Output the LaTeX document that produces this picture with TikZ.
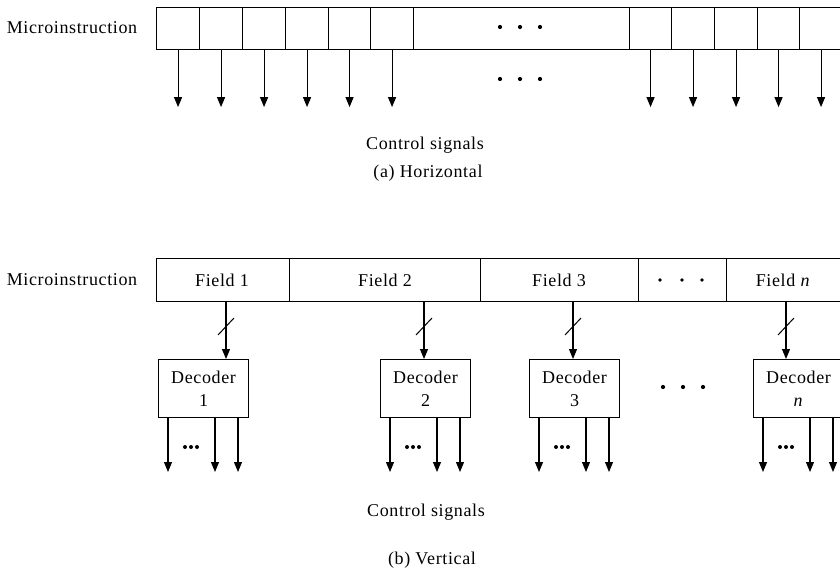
\documentclass[tikz,border=0pt]{standalone}
\usepackage{fontspec}
\setmainfont{Liberation Serif}[LetterSpace=3.5]
\usetikzlibrary{arrows.meta,calc}
\begin{document}
\begin{tikzpicture}[x=1pt,y=-1pt,
  txt/.style={font=\fontsize{18}{22}\selectfont, inner sep=0pt},
  cellbox/.style={draw, line width=1.1pt, rectangle, inner sep=0pt, anchor=north west},
  sig/.style={draw, line width=1.1pt, -{Triangle[width=8pt,length=10pt]}},
  busarrow/.style={draw, line width=1.1pt, -{Triangle[width=8pt,length=10pt]}},
  decbox/.style={draw, line width=1.1pt, rectangle, inner sep=0pt, anchor=north west, minimum width=90pt, minimum height=58pt, align=center, font=\fontsize{18}{22}\selectfont}
]
\useasboundingbox (0,0) rectangle (840,572);

% ---------------- (a) Horizontal ----------------
\node[txt] (mia) at (72,28) {Microinstruction};
\foreach \i/\x/\w in {1/156/43, 2/199/43, 3/242/43, 4/285/43, 5/328/42, 6/370/43, 7/629/42, 8/671/43, 9/714/43, 10/757/42, 11/799/43} {
  \node[cellbox, minimum width=\w pt, minimum height=42pt] (c\i) at (\x,7) {};
  \coordinate (e\i) at ($(c\i.south)+(0,57)$);
  \draw[sig] (c\i.south) -- (e\i);
}
\node[cellbox, minimum width=216pt, minimum height=42pt] (cm) at (413,7) {};
\foreach \x in {500,520,540} {
  \fill (\x,27) circle (2.1pt);
  \fill (\x,79) circle (2.1pt);
}
\node[txt] (csa) at (425,145) {Control signals};
\node[txt] (capa) at (428,173) {(a) Horizontal};

% ---------------- (b) Vertical ----------------
\node[txt] (mib) at (72,280) {Microinstruction};
\node[cellbox, minimum width=133pt, minimum height=43pt] (f1) at (156,258) {};
\node[cellbox, minimum width=191pt, minimum height=43pt] (f2) at (289,258) {};
\node[cellbox, minimum width=158pt, minimum height=43pt] (f3) at (480,258) {};
\node[cellbox, minimum width=88pt, minimum height=43pt] (fd) at (638,258) {};
\node[cellbox, minimum width=116pt, minimum height=43pt] (fn) at (726,258) {};
\node[txt] at (222,280) {Field 1};
\node[txt] at (385,280) {Field 2};
\node[txt] at (559,280) {Field 3};
\node[txt] at (783,280) {Field \textit{n}};
\foreach \x in {660,682,702} \fill (\x,280) circle (1.9pt);

\node[decbox] (d1) at (158,359) {Decoder\\[1pt]1};
\node[decbox] (d2) at (380,359) {Decoder\\[1pt]2};
\node[decbox] (d3) at (529,359) {Decoder\\[1pt]3};
\node[decbox] (dn) at (753,359) {Decoder\\[1pt]\textit{n}};
\foreach \x in {663,683,703} \fill (\x,387) circle (2.1pt);

% field-to-decoder buses
\foreach \f/\d/\x in {f1/d1/226, f2/d2/424, f3/d3/573, fn/dn/786} {
  \coordinate (t\d) at (\x,301);
  \coordinate (b\d) at (\x,359);
  \draw[busarrow] (t\d) -- (b\d);
  \draw[line width=1pt] (\x-8,335) -- (\x+8,318);
}

% decoder outputs
\foreach \d/\l in {d1/158, d2/380, d3/529, dn/753} {
  \foreach \o in {10,57,80} {
    \coordinate (s\d\o) at (\l+\o,417);
    \coordinate (z\d\o) at (\l+\o,472);
    \draw[sig] (s\d\o) -- (z\d\o);
  }
  \foreach \o in {27,33,39} \fill (\l+\o,447) circle (2pt);
}

\node[txt] (csb) at (426,512) {Control signals};
\node[txt] (capb) at (432,560) {(b) Vertical};
\end{tikzpicture}
\end{document}
